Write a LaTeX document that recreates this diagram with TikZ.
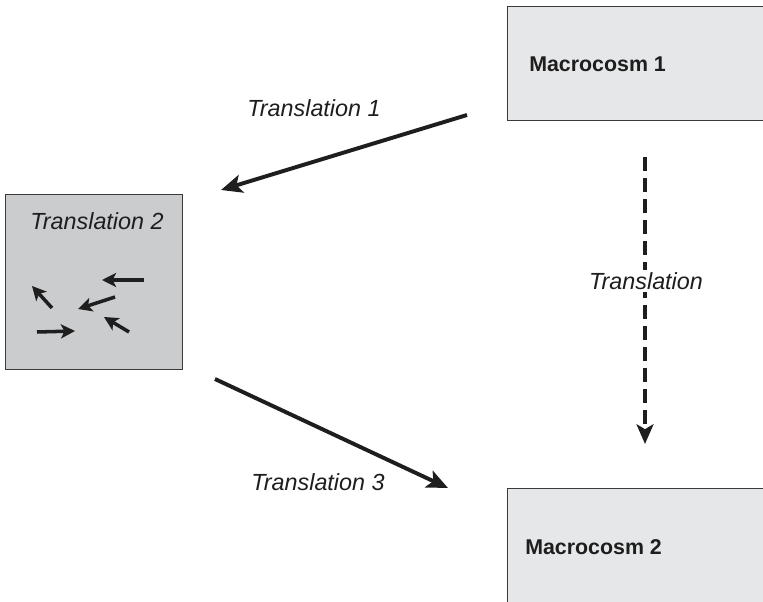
\documentclass[tikz,border=0pt]{standalone}
\usepackage{fontspec}
\setmainfont{Liberation Sans}
\usepackage{tikz}
\usetikzlibrary{arrows.meta}
\definecolor{boxlight}{HTML}{E6E7E8}
\definecolor{boxdark}{HTML}{CBCCCE}
\definecolor{rim}{HTML}{3A3A3C}
\definecolor{ink}{HTML}{1E1E1E}

\begin{document}
\begin{tikzpicture}[x=0.025cm,y=-0.025cm,
  macrobox/.style={draw=rim, fill=boxlight, line width=0.8pt, minimum width=7.5cm, minimum height=2.85cm, anchor=north west, inner sep=0pt},
  microbox/.style={draw=rim, fill=boxdark, line width=0.8pt, minimum width=4.425cm, minimum height=4.375cm, anchor=north west, inner sep=0pt},
  boldlabel/.style={font=\fontsize{15.2}{18}\selectfont\bfseries, text=ink, anchor=west, inner sep=0pt},
  itlabel/.style={font=\fontsize{16.6}{19}\selectfont\itshape, text=ink, inner sep=1pt},
  bigarrow/.style={ink, line width=2.8pt, -{Stealth[length=15pt,width=13pt,inset=3.5pt]}},
  smallarrow/.style={ink, line width=2.5pt, -{Stealth[length=10pt,width=10pt,inset=2.5pt]}}]
\useasboundingbox (0,0) rectangle (763,602);
\clip (0,0) rectangle (763,602);

% boxes
\node[macrobox] (macroA) at (507,6) {};
\node[boldlabel] (macroAtext) at (529,64) {Macrocosm 1};
\node[macrobox] (macroB) at (507,488) {};
\node[boldlabel] (macroBtext) at (525,547) {Macrocosm 2};
\node[microbox] (micro) at (5,194) {};
\node[itlabel] (microtext) at (97,221) {Translation 2};

% small arrows inside the middle box
\coordinate (s1a) at (144,280); \coordinate (s1b) at (102,280);
\coordinate (s2a) at (115,297); \coordinate (s2b) at (78,309);
\coordinate (s3a) at (52,308);  \coordinate (s3b) at (32,286);
\coordinate (s4a) at (37,332);  \coordinate (s4b) at (75,331);
\coordinate (s5a) at (129,332); \coordinate (s5b) at (104,317);
\foreach \k in {1,...,5}
  \draw[smallarrow] (s\k a) -- (s\k b);

% translations
\coordinate (oneA) at (467,115);
\coordinate (oneB) at (221,190);
\draw[bigarrow] (oneA) -- (oneB);
\node[itlabel] (oneLabel) at (314,108) {Translation 1};

\coordinate (threeA) at (215,379);
\coordinate (threeB) at (448,488);
\draw[bigarrow] (threeA) -- (threeB);
\node[itlabel] (threeLabel) at (318,482) {Translation 3};

\coordinate (downA) at (645,157);
\coordinate (downB) at (645,444);
\draw[ink, line width=2.8pt, dash pattern=on 10pt off 5pt, -{Stealth[length=14pt,width=12pt,inset=3.5pt]}] (downA) -- (downB);
\node[itlabel, fill=white, inner sep=2pt] (downLabel) at (646,281) {Translation};
\end{tikzpicture}
\end{document}
